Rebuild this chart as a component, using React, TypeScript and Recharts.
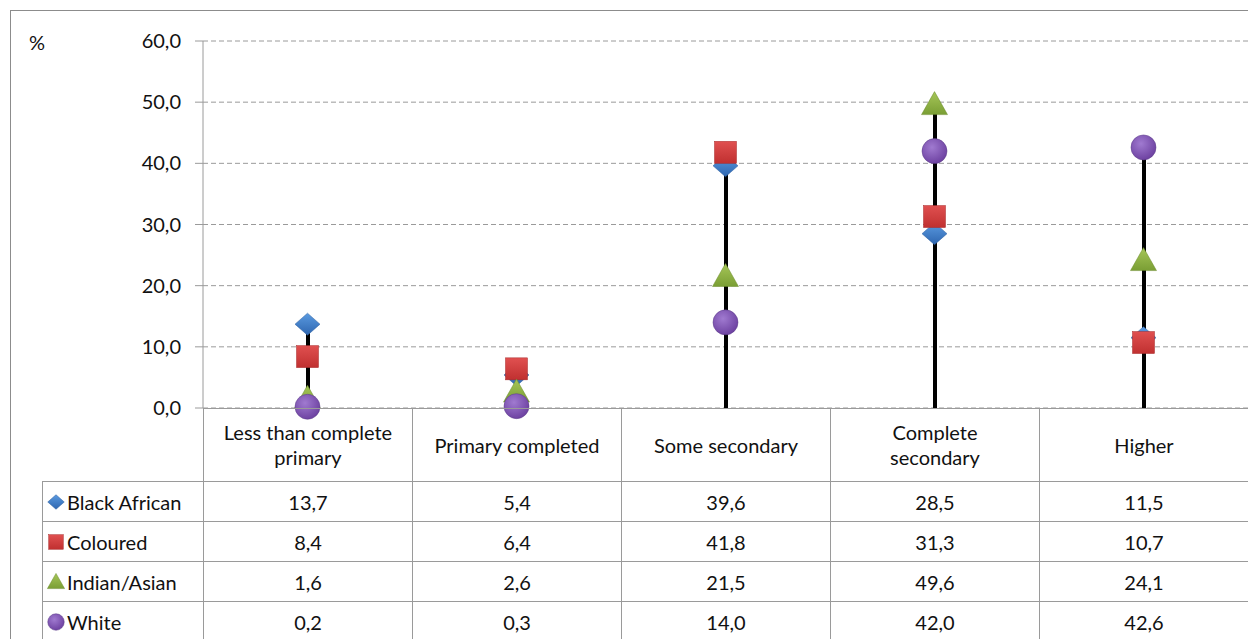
import React from "react";
import {
  ComposedChart,
  Bar,
  Line,
  XAxis,
  YAxis,
  CartesianGrid,
} from "recharts";

const categories = [
  "Less than complete primary",
  "Primary completed",
  "Some secondary",
  "Complete secondary",
  "Higher",
];
const headerLabels = [
  ["Less than complete", "primary"],
  ["Primary completed"],
  ["Some secondary"],
  ["Complete", "secondary"],
  ["Higher"],
];
const blackAfrican = [13.7, 5.4, 39.6, 28.5, 11.5];
const coloured = [8.4, 6.4, 41.8, 31.3, 10.7];
const indianAsian = [1.6, 2.6, 21.5, 49.6, 24.1];
const white = [0.2, 0.3, 14.0, 42.0, 42.6];
const yTicks = [0, 10, 20, 30, 40, 50, 60];

const seriesList = [
  { key: "black", name: "Black African", values: blackAfrican, shape: "diamond" },
  { key: "coloured", name: "Coloured", values: coloured, shape: "square" },
  { key: "indian", name: "Indian/Asian", values: indianAsian, shape: "triangle" },
  { key: "white", name: "White", values: white, shape: "circle" },
];

const data = categories.map((c, i) => ({
  category: c,
  black: blackAfrican[i],
  coloured: coloured[i],
  indian: indianAsian[i],
  white: white[i],
  top: Math.max(blackAfrican[i], coloured[i], indianAsian[i], white[i]),
}));

const fmt = (v: number) => v.toFixed(1).replace(".", ",");

const FONT = "Lato, 'Open Sans', sans-serif";
const GRID = "#9a9a9a";
const TXT = 20;

function Marker({ shape, cx, cy, scale = 1 }: any) {
  if (cx == null || cy == null) return null;
  const s = scale;
  if (shape === "diamond") {
    return (
      <polygon
        points={`${cx},${cy - 11 * s} ${cx + 12.5 * s},${cy} ${cx},${cy + 11 * s} ${cx - 12.5 * s},${cy}`}
        fill="url(#gBlue)"
        stroke="#2d5f9e"
        strokeWidth={0.5}
      />
    );
  }
  if (shape === "square") {
    return (
      <rect
        x={cx - 11 * s}
        y={cy - 11 * s}
        width={22 * s}
        height={22 * s}
        fill="url(#gRed)"
        stroke="#a82828"
        strokeWidth={0.5}
      />
    );
  }
  if (shape === "triangle") {
    return (
      <polygon
        points={`${cx},${cy - 13 * s} ${cx + 13 * s},${cy + 10 * s} ${cx - 13 * s},${cy + 10 * s}`}
        fill="url(#gGreen)"
        stroke="#6a8a2a"
        strokeWidth={0.5}
      />
    );
  }
  return <circle cx={cx} cy={cy} r={12.5 * s} fill="url(#gPurple)" stroke="#5a3a86" strokeWidth={0.5} />;
}

function Defs() {
  return (
    <defs>
      <linearGradient id="gBlue" x1="0" y1="0" x2="0" y2="1">
        <stop offset="0" stopColor="#5a9ae0" />
        <stop offset="1" stopColor="#2e66b0" />
      </linearGradient>
      <linearGradient id="gRed" x1="0" y1="0" x2="0" y2="1">
        <stop offset="0" stopColor="#e05050" />
        <stop offset="1" stopColor="#c03030" />
      </linearGradient>
      <linearGradient id="gGreen" x1="0" y1="0" x2="0" y2="1">
        <stop offset="0" stopColor="#a6c658" />
        <stop offset="1" stopColor="#7a9e34" />
      </linearGradient>
      <radialGradient id="gPurple" cx="0.4" cy="0.35" r="0.7">
        <stop offset="0" stopColor="#a07ad0" />
        <stop offset="1" stopColor="#6a3e9e" />
      </radialGradient>
    </defs>
  );
}

const COL_W = 209;
const PLOT_LEFT = 203;
const LEG_LEFT = 42;
const HEADER_TOP = 408;
const HEADER_H = 73;
const ROW_H = 40;

export default function App() {
  return (
    <div style={{ position: "relative", width: 1248, height: 639, overflow: "hidden", fontFamily: FONT }}>
      <style>{"body{margin:0;overflow:hidden}"}</style>
      {/* outer frame */}
      <div
        style={{
          position: "absolute",
          left: 10,
          top: 10,
          width: 1260,
          height: 660,
          border: "1px solid #8c8c8c",
        }}
      />
      <div style={{ position: "absolute", left: 29, top: 30, fontSize: TXT, color: "#111" }}>%</div>

      <div style={{ position: "absolute", left: 0, top: 0 }}>
        <ComposedChart
          width={1248}
          height={430}
          data={data}
          margin={{ top: 41, right: 0, left: 0, bottom: 22 }}
          barCategoryGap={0}
        >
          <Defs />
          <CartesianGrid vertical={false} strokeDasharray="5 3" stroke={GRID} />
          <XAxis
            dataKey="category"
            height={0}
            tick={false}
            tickLine={false}
            axisLine={{ stroke: GRID }}
          />
          <YAxis
            width={203}
            domain={[0, 60]}
            ticks={yTicks}
            tickFormatter={fmt}
            tick={{ fill: "#111", fontSize: TXT, fontFamily: FONT }}
            tickSize={8}
            tickMargin={14}
            axisLine={{ stroke: GRID }}
            tickLine={{ stroke: GRID }}
          />
          <Bar dataKey="top" barSize={4} fill="#000" isAnimationActive={false} />
          {seriesList.map((s) => (
            <Line
              key={s.key}
              dataKey={s.key}
              stroke="none"
              isAnimationActive={false}
              activeDot={false}
              dot={(p: any) => <Marker key={`${s.key}-${p.index}`} shape={s.shape} cx={p.cx} cy={p.cy} />}
            />
          ))}
        </ComposedChart>
      </div>

      {/* data table */}
      {headerLabels.map((lines, i) => (
        <div
          key={`h${i}`}
          style={{
            position: "absolute",
            left: PLOT_LEFT + i * COL_W,
            top: HEADER_TOP,
            width: COL_W,
            height: HEADER_H,
            borderLeft: `1px solid ${GRID}`,
            borderTop: `1px solid ${GRID}`,
            boxSizing: "border-box",
            display: "flex",
            flexDirection: "column",
            alignItems: "center",
            justifyContent: "center",
            fontSize: TXT,
            lineHeight: "25px",
            color: "#111",
          }}
        >
          {lines.map((l) => (
            <div key={l}>{l}</div>
          ))}
        </div>
      ))}
      {seriesList.map((s, r) => {
        const top = HEADER_TOP + HEADER_H + r * ROW_H;
        return (
          <React.Fragment key={s.key}>
            <div
              style={{
                position: "absolute",
                left: LEG_LEFT,
                top,
                width: PLOT_LEFT - LEG_LEFT,
                height: ROW_H,
                borderLeft: `1px solid ${GRID}`,
                borderTop: `1px solid ${GRID}`,
                boxSizing: "border-box",
                display: "flex",
                alignItems: "center",
                fontSize: TXT,
                color: "#111",
                whiteSpace: "nowrap",
              }}
            >
              <svg width={20} height={20} style={{ marginLeft: 3, marginRight: 1, flexShrink: 0 }}>
                <Defs />
                <Marker shape={s.shape} cx={10} cy={10} scale={0.66} />
              </svg>
              {s.name}
            </div>
            {s.values.map((v, i) => (
              <div
                key={i}
                style={{
                  position: "absolute",
                  left: PLOT_LEFT + i * COL_W,
                  top,
                  width: COL_W,
                  height: ROW_H,
                  borderLeft: `1px solid ${GRID}`,
                  borderTop: `1px solid ${GRID}`,
                  boxSizing: "border-box",
                  display: "flex",
                  alignItems: "center",
                  justifyContent: "center",
                  fontSize: TXT,
                  color: "#111",
                }}
              >
                {fmt(v)}
              </div>
            ))}
          </React.Fragment>
        );
      })}
    </div>
  );
}
